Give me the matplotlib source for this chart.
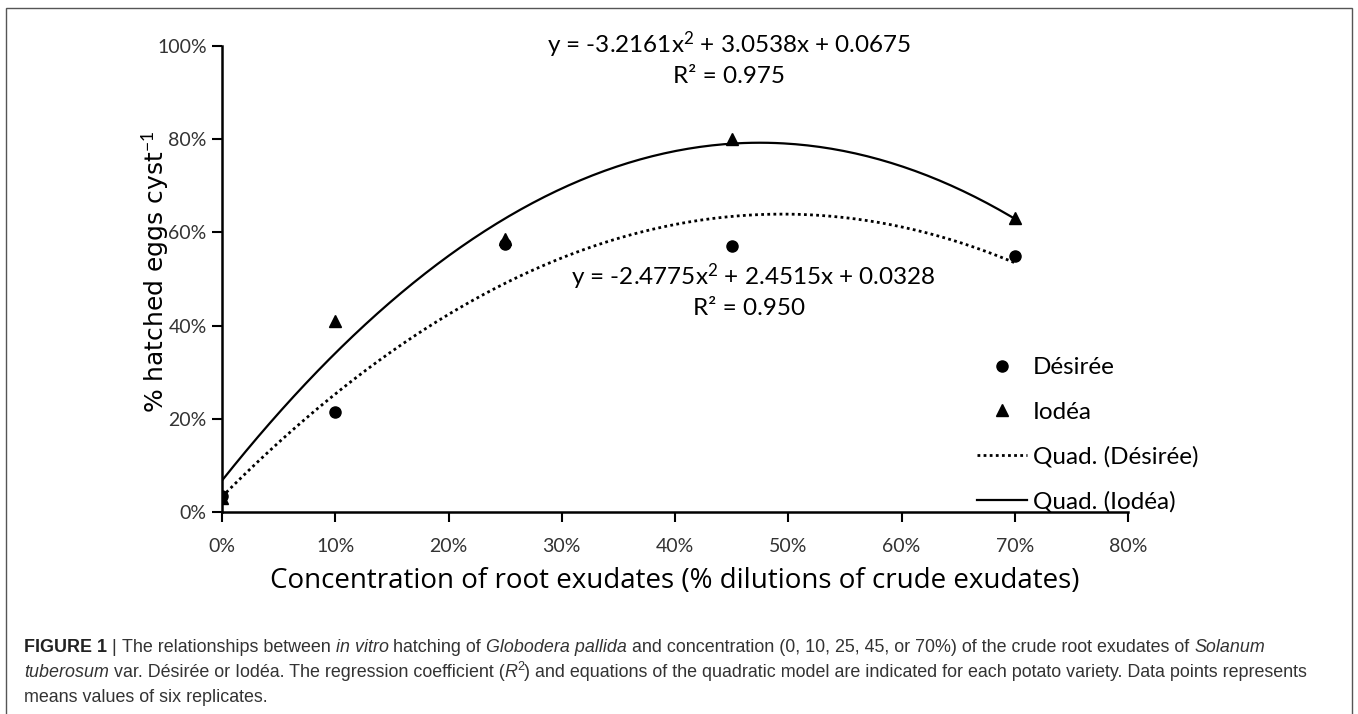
import numpy as np
import matplotlib.pyplot as plt
from matplotlib.lines import Line2D
from matplotlib.patches import Rectangle

# -------------------------
# Data
# -------------------------
conc = [0, 10, 25, 45, 70]                     # % of crude exudates
desiree = [3.5, 21.5, 57.5, 57.0, 55.0]        # % hatched eggs
iodea = [3.0, 41.0, 58.5, 80.0, 63.0]

# Quadratic trendline coefficients given on the chart (x, y as fractions)
coef_desiree = [-2.4775, 2.4515, 0.0328]
coef_iodea = [-3.2161, 3.0538, 0.0675]

eq_iodea = ["y = -3.2161x$^{2}$ + 3.0538x + 0.0675", "R² = 0.975"]
eq_desiree = ["y = -2.4775x$^{2}$ + 2.4515x + 0.0328", "R² = 0.950"]

x_ticks = [0, 10, 20, 30, 40, 50, 60, 70, 80]
y_ticks = [0, 20, 40, 60, 80, 100]

chart_font = ["Lato", "DejaVu Sans"]
cap_font = ["Liberation Sans", "DejaVu Sans"]
plt.rcParams["mathtext.fontset"] = "custom"
plt.rcParams["mathtext.rm"] = "Lato"
plt.rcParams["mathtext.it"] = "Lato:italic"

W, H = 1358, 714
fig = plt.figure(figsize=(W / 100, H / 100), dpi=100)

# frame round the figure
fig.patches.append(Rectangle((6 / W, -0.01), 1346 / W, 1 - 8 / H + 0.01,
                             transform=fig.transFigure, fill=False,
                             edgecolor="#555555", linewidth=1.0))

ax = fig.add_axes([222 / W, 1 - 512 / H, (1128 - 222) / W, (512 - 46) / H])

# -------------------------
# Trendlines
# -------------------------
xs = np.linspace(0, 0.70, 200)
ax.plot(xs * 100, np.polyval(coef_desiree, xs) * 100, color="black",
        linestyle=(0, (1, 1.2)), linewidth=2.0)
ax.plot(xs * 100, np.polyval(coef_iodea, xs) * 100, color="black",
        linestyle="-", linewidth=1.6)

# Data points
ax.plot(conc, iodea, linestyle="none", marker="^", color="black", markersize=8)
ax.plot(conc, desiree, linestyle="none", marker="o", color="black", markersize=8)

ax.set_xlim(0, 80)
ax.set_ylim(0, 100)
ax.set_xticks(x_ticks)
ax.set_yticks(y_ticks)
ax.set_xticklabels([f"{v}%" for v in x_ticks], family=chart_font, fontsize=14, color="#333333")
ax.set_yticklabels([f"{v}%" for v in y_ticks], family=chart_font, fontsize=14, color="#333333")
ax.tick_params(axis="x", direction="out", length=7, width=1.5, pad=12)
ax.tick_params(axis="y", direction="out", length=7, width=1.5, pad=4)
for s in ["top", "right"]:
    ax.spines[s].set_visible(False)
for s in ["left", "bottom"]:
    ax.spines[s].set_linewidth(1.8)

ax.set_xlabel("Concentration of root exudates (% dilutions of crude exudates)",
              family=["Open Sans", "DejaVu Sans"], fontsize=20, labelpad=8)
fig.text(155 / W, 1 - 272 / H, "% hatched eggs cyst$^{-1}$", family=["DejaVu Sans"],
         fontsize=18, rotation=90, ha="center", va="center")

# Equations
ax.text(44.8, 100.3, eq_iodea[0], ha="center", va="center", family=chart_font, fontsize=17.5)
ax.text(44.8, 93.4, eq_iodea[1], ha="center", va="center", family=chart_font, fontsize=17.5)
ax.text(46.9, 50.5, eq_desiree[0], ha="center", va="center", family=chart_font, fontsize=17.5)
ax.text(46.5, 43.6, eq_desiree[1], ha="center", va="center", family=chart_font, fontsize=17.5)

# Legend
handles = [
    Line2D([], [], linestyle="none", marker="o", color="black", markersize=8),
    Line2D([], [], linestyle="none", marker="^", color="black", markersize=8),
    Line2D([], [], linestyle=(0, (1, 1.2)), color="black", linewidth=2.0),
    Line2D([], [], linestyle="-", color="black", linewidth=1.6),
]
labels = ["Désirée", "Iodéa", "Quad. (Désirée)", "Quad. (Iodéa)"]
fig.legend(handles, labels, loc="upper left", bbox_to_anchor=(977 / W, 1 - 357 / H),
           frameon=False, prop={"family": chart_font, "size": 17.5},
           borderpad=0, borderaxespad=0,
           handlelength=2.05, handletextpad=0.25, labelspacing=0.97)

# -------------------------
# Caption
# -------------------------
renderer = fig.canvas.get_renderer()
cap_color = "#333333"
cap_size = 12.9


def put_line(pieces, x0, y):
    x = x0
    for txt, style in pieces:
        kw = dict(family=cap_font, fontsize=cap_size, color=cap_color, va="baseline")
        yy = y
        if "b" in style:
            kw["weight"] = "bold"
            kw["color"] = "#222222"
        if "i" in style:
            kw["style"] = "italic"
        if "s" in style:
            kw["fontsize"] = cap_size * 0.7
            yy = y + 7 / H
        t = fig.text(x, yy, txt, **kw)
        bb = t.get_window_extent(renderer)
        x = bb.x1 / W


line1 = [("FIGURE 1", "b"), (" | ", ""), ("The relationships between ", ""), ("in vitro", "i"),
         (" hatching of ", ""), ("Globodera pallida", "i"),
         (" and concentration (0, 10, 25, 45, or 70%) of the crude root exudates of ", ""),
         ("Solanum", "i")]
line2 = [("tuberosum", "i"), (" var. Désirée or Iodéa. The regression coefficient (", ""),
         ("R", "i"), ("2", "s"),
         (") and equations of the quadratic model are indicated for each potato variety. "
          "Data points represents", "")]
line3 = [("means values of six replicates.", "")]

put_line(line1, 24 / W, 1 - 652 / H)
put_line(line2, 24 / W, 1 - 677 / H)
put_line(line3, 24 / W, 1 - 702 / H)

fig.savefig("out.png", dpi=100)
